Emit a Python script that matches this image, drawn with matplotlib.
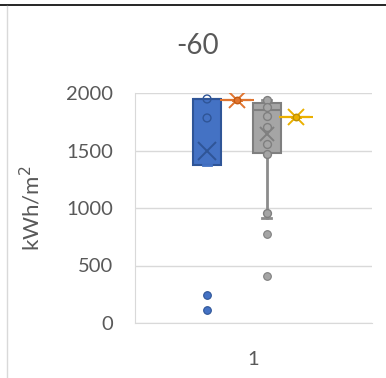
import numpy as np
import matplotlib.pyplot as plt
from matplotlib.lines import Line2D

plt.rcParams['font.family'] = ['Lato', 'DejaVu Sans']

# data (kWh/m2)
title = '-60'
category = ['1']
series_colors = ['#4472C4', '#E07530', '#A5A5A5', '#EBB000']
edge_colors = ['#2F5597', '#C55A11', '#7F7F7F', '#BF9000']
q1 = [1370, 1940, 1475, 1795]
med = [1948, 1940, 1855, 1795]
q3 = [1948, 1940, 1910, 1795]
whislo = [1370, 1940, 915, 1795]
whishi = [1948, 1940, 1940, 1795]
means = [1500, 1940, 1640, 1795]
inner = [[1948, 1783], [1940], [1940, 1878, 1800, 1704, 1557, 1470, 955], [1795]]
fliers = [[243, 113], [], [774, 409], []]

positions = [0.304, 0.430, 0.555, 0.679]
box_w = 0.118

fig = plt.figure(figsize=(3.86, 3.78), dpi=100)
ax = fig.add_axes([135 / 386, 55 / 378, 237 / 386, 230 / 378])

for i in range(4):
    st = dict(q1=q1[i], med=med[i], q3=q3[i], whislo=whislo[i], whishi=whishi[i],
              mean=means[i], fliers=fliers[i])
    single = q1[i] == q3[i]
    line_c = series_colors[i] if single else edge_colors[i]
    ax.bxp([st], positions=[positions[i]], widths=box_w, patch_artist=True,
           showmeans=True, showfliers=True, zorder=3,
           boxprops=dict(facecolor=series_colors[i], edgecolor=line_c, linewidth=1.5),
           medianprops=dict(color=line_c, linewidth=1.5),
           whiskerprops=dict(color='#8C8C8C' if i == 2 else series_colors[i], linewidth=2),
           capprops=dict(color='#8C8C8C' if i == 2 else series_colors[i], linewidth=2),
           capwidths=0.035,
           meanprops=dict(marker='x', markeredgecolor=line_c,
                          markersize=13 if i == 0 else (10 if i == 2 else 12), markeredgewidth=1.4),
           flierprops=dict(marker='o', markerfacecolor=series_colors[i], markeredgecolor=edge_colors[i],
                           markersize=5.5, markeredgewidth=0.8))
    if single:
        ax.plot([positions[i]], [means[i]], marker='_', markersize=24, markeredgewidth=1.5,
                color=series_colors[i], zorder=4, clip_on=False)
    ax.scatter([positions[i]] * len(inner[i]), inner[i], s=32 if not single else 22,
               facecolor=series_colors[i] if i != 0 else 'none',
               edgecolor=edge_colors[i], linewidth=1, zorder=5, clip_on=False)

ax.set_xlim(0, 1)
ax.set_ylim(0, 2000)
ax.set_yticks([0, 500, 1000, 1500, 2000])
ax.set_xticks([0.5])
ax.set_xticklabels(category)
ax.grid(axis='y', color='#D9D9D9', linewidth=1)
ax.set_axisbelow(True)
ax.tick_params(length=0, labelsize=14.5, colors='#595959')
ax.tick_params(axis='y', pad=16)
ax.tick_params(axis='x', pad=20)
for side in ['top', 'right']:
    ax.spines[side].set_visible(False)
for side in ['left', 'bottom']:
    ax.spines[side].set_color('#D9D9D9')
ax.set_ylabel('kWh/m$^2$', fontsize=16, color='#595959')
ax.yaxis.set_label_coords(-0.385, 0.5)

fig.text(198 / 386, 1 - 46 / 378, title, ha='center', va='center', fontsize=20, color='#595959')

# surrounding frame pieces
fig.add_artist(Line2D([0, 1], [1 - 5 / 378, 1 - 5 / 378], color='black', linewidth=1.2))
fig.add_artist(Line2D([7 / 386, 7 / 386], [0, 1 - 6 / 378], color='#D9D9D9', linewidth=1))

fig.savefig('out.png', dpi=100)
